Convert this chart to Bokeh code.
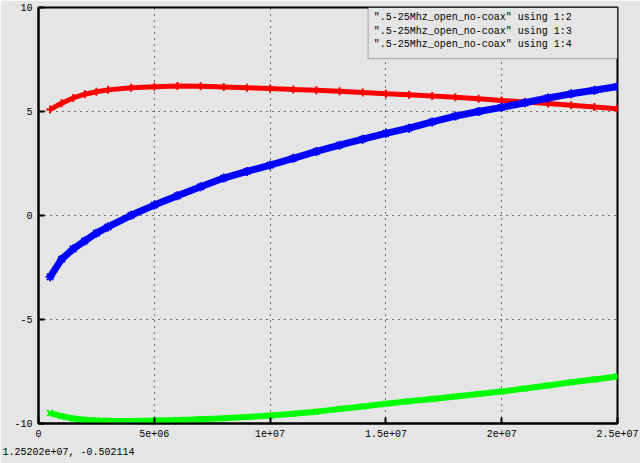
from bokeh.plotting import figure
from bokeh.models import Range1d, FixedTicker, Label, BoxAnnotation, Title
from bokeh.embed import file_html
from bokeh.resources import INLINE
from bokeh.core.properties import value

# ---- data ----
freq_hz = [0.5e6, 1.0e6, 1.5e6, 2.0e6, 2.5e6, 3.0e6, 4.0e6, 5.0e6, 6.0e6, 7.0e6,
           8.0e6, 9.0e6, 10e6, 11e6, 12e6, 13e6, 14e6, 15e6, 16e6, 17e6,
           18e6, 19e6, 20e6, 21e6, 22e6, 23e6, 24e6, 25e6]
col2 = [5.10, 5.40, 5.65, 5.83, 5.95, 6.04, 6.14, 6.19, 6.22, 6.21,
        6.18, 6.14, 6.10, 6.06, 6.02, 5.97, 5.91, 5.85, 5.80, 5.74,
        5.69, 5.61, 5.53, 5.46, 5.38, 5.30, 5.22, 5.13]
col3 = [-9.50, -9.65, -9.76, -9.82, -9.85, -9.87, -9.88, -9.86, -9.83, -9.79,
        -9.75, -9.69, -9.62, -9.53, -9.43, -9.30, -9.18, -9.05, -8.93, -8.82,
        -8.70, -8.58, -8.46, -8.32, -8.17, -8.02, -7.88, -7.74]
col4 = [-2.95, -2.10, -1.60, -1.22, -0.85, -0.55, 0.01, 0.50, 0.95, 1.38,
        1.80, 2.12, 2.42, 2.75, 3.08, 3.38, 3.67, 3.95, 4.20, 4.50,
        4.78, 5.00, 5.20, 5.42, 5.65, 5.85, 6.02, 6.20]

series_labels = ['".5-25Mhz_open_no-coax" using 1:2',
                 '".5-25Mhz_open_no-coax" using 1:3',
                 '".5-25Mhz_open_no-coax" using 1:4']
x_ticks = [0, 5e6, 1e7, 1.5e7, 2e7, 2.5e7]
x_tick_labels = ["0", "5e+06", "1e+07", "1.5e+07", "2e+07", "2.5e+07"]
y_ticks = [-10, -5, 0, 5, 10]
y_tick_labels = ["-10", "-5", "0", "5", "10"]
status_text = "1.25202e+07, -0.502114"

BG = "#e5e5e5"
FONT = "Liberation Mono"
RED, GREEN, BLUE = "#ff0000", "#00ff00", "#0000ff"

p = figure(width=640, height=463, output_backend="svg", toolbar_location=None,
           x_range=Range1d(0, 2.5e7), y_range=Range1d(-10, 10),
           background_fill_color=BG, border_fill_color=BG,
           min_border_left=38, min_border_right=23, min_border_top=7,
           min_border_bottom=40)
p.outline_line_color = "black"
p.outline_line_width = 2

for ax, ticks, labels in ((p.xaxis[0], x_ticks, x_tick_labels),
                          (p.yaxis[0], y_ticks, y_tick_labels)):
    ax.ticker = FixedTicker(ticks=ticks)
    ax.major_label_overrides = {t: l for t, l in zip(ticks, labels)}
    ax.major_tick_in = 6
    ax.major_tick_out = 0
    ax.minor_tick_line_color = None
    ax.major_tick_line_color = "black"
    ax.major_tick_line_width = 2
    ax.axis_line_color = "black"
    ax.axis_line_width = 2
    ax.major_label_text_font = FONT
    ax.major_label_text_font_size = "10px"
    ax.major_label_text_color = "black"
    ax.major_label_standoff = 6

for g, ticks in ((p.xgrid[0], x_ticks), (p.ygrid[0], y_ticks)):
    g.ticker = FixedTicker(ticks=ticks)
    g.grid_line_color = "black"
    g.grid_line_dash = "1 5"
    g.grid_line_width = 1

# series
p.line(freq_hz, col2, line_color=RED, line_width=5)
p.scatter(freq_hz, col2, marker="cross", size=8, line_color=RED, line_width=2)
p.line(freq_hz, col3, line_color=GREEN, line_width=6)
p.scatter(freq_hz, col3, marker="x", size=8, line_color=GREEN, line_width=2)
p.line(freq_hz, col4, line_color=BLUE, line_width=7)
p.scatter(freq_hz, col4, marker="asterisk", size=9, line_color=BLUE, line_width=2)

# key (gnuplot style: text then marker, opaque box)
p.add_layout(BoxAnnotation(left=14.23e6, right=2.5e7, bottom=7.54, top=10,
                           fill_color=BG, fill_alpha=1.0,
                           line_color="black", line_width=1))
key_y = [9.51, 8.84, 8.22]
for lab, yy in zip(series_labels, key_y):
    p.add_layout(Label(x=23.03e6, y=yy, text=lab, text_align="right",
                       text_baseline="middle", text_font=FONT,
                       text_font_size="10px", text_color="black"))
p.scatter([23.9e6], [key_y[0]], marker="cross", size=6, line_color=RED, line_width=1)
p.scatter([23.9e6], [key_y[1]], marker="x", size=6, line_color=GREEN, line_width=1)
p.scatter([23.9e6], [key_y[2]], marker="asterisk", size=6, line_color=BLUE, line_width=1)

# status line at the bottom
p.add_layout(Title(text=status_text, align="left", offset=-36, standoff=10,
                   text_font=FONT, text_font_size="10px",
                   text_font_style="normal", text_color="black"), "below")

open("out.html", "w").write(file_html(p, INLINE))
